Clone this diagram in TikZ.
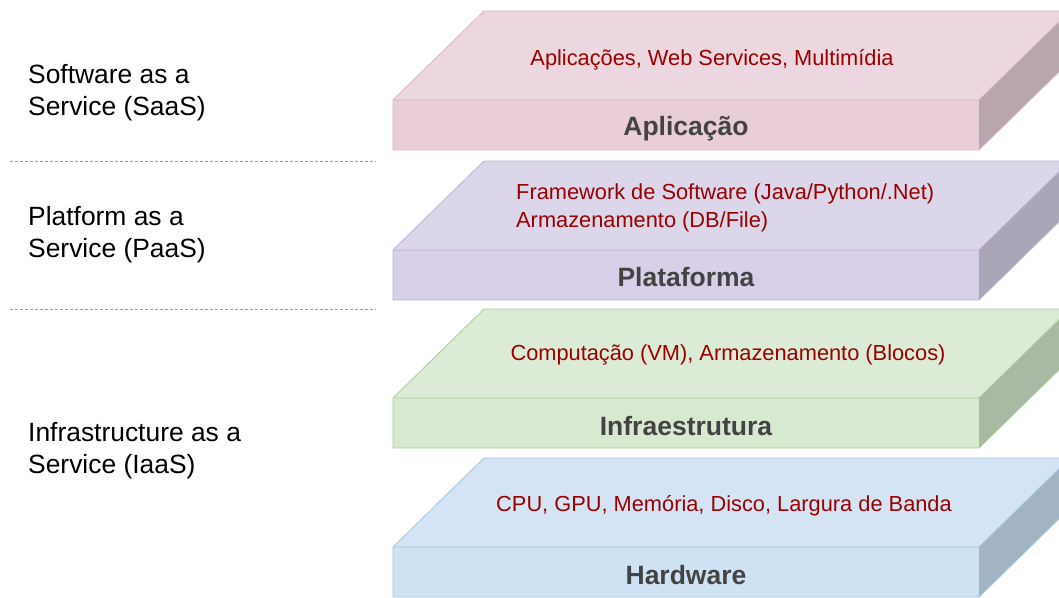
\documentclass[tikz,border=0pt]{standalone}
\usepackage{fontspec}
\setmainfont{Liberation Sans}
\definecolor{toptext}{HTML}{990000}
\definecolor{labeltext}{HTML}{434343}
\definecolor{sepline}{HTML}{9A9A9A}
% slab colours: top face, front face, side face, outline
\definecolor{pinkT}{HTML}{ECD6DF}\definecolor{pinkF}{HTML}{E9CEDA}\definecolor{pinkS}{HTML}{B9A5AE}\definecolor{pinkL}{HTML}{D9B3C5}
\definecolor{purpT}{HTML}{DCD6EA}\definecolor{purpF}{HTML}{D8D0E8}\definecolor{purpS}{HTML}{ABA5B8}\definecolor{purpL}{HTML}{BDB0D6}
\definecolor{grnT}{HTML}{DCEBD5}\definecolor{grnF}{HTML}{D7E9CF}\definecolor{grnS}{HTML}{A9B9A3}\definecolor{grnL}{HTML}{A9CC9A}
\definecolor{bluT}{HTML}{D4E4F4}\definecolor{bluF}{HTML}{CFE2F3}\definecolor{bluS}{HTML}{A2B3C4}\definecolor{bluL}{HTML}{A0C4E6}
\tikzset{
  sidelabel/.style={anchor=west,align=left,font=\fontsize{26.4}{32}\selectfont,text=black,inner sep=0pt},
  facetext/.style={align=left,font=\fontsize{21.8}{28}\selectfont,text=toptext,inner sep=0pt},
  layername/.style={font=\fontsize{26.5}{30}\selectfont\bfseries,text=labeltext,inner sep=0pt},
  sep/.style={draw=sepline,line width=0.8pt,dash pattern=on 3pt off 2pt},
}
% \layerslab{front top y}{top}{front}{side}{outline}
\newcommand\layerslab[5]{%
  \fill[#2] (393,#1) -- (979,#1) -- (1070,#1-89) -- (484,#1-89) -- cycle;
  \draw[#5,line width=0.8pt] (393,#1) -- (484,#1-89) -- (1070,#1-89);
  \fill[#4] (979,#1) -- (1070,#1-89) -- (1070,#1-39) -- (979,#1+50) -- cycle;
  \fill[#3] (393,#1) rectangle (979,#1+50);
  \draw[#5,line width=0.8pt] (979,#1) -- (393,#1) -- (393,#1+50) -- (979,#1+50) -- (1070,#1-39);
  \draw[#5,line width=0.8pt] (979,#1) -- (1070,#1-89);
}
\begin{document}
\begin{tikzpicture}[x=1pt,y=-1pt]
\useasboundingbox (0,0) rectangle (1059,597);
\fill[white] (0,0) rectangle (1059,597);
\begin{scope}
\clip (0,0) rectangle (1059,597);
\layerslab{100}{pinkT}{pinkF}{pinkS}{pinkL}
\layerslab{250}{purpT}{purpF}{purpS}{purpL}
\layerslab{398}{grnT}{grnF}{grnS}{grnL}
\layerslab{547}{bluT}{bluF}{bluS}{bluL}
\end{scope}

% layer names on the front faces
\node[layername] (app) at (686,129) {Aplicação};
\node[layername] (plat) at (686,277) {Plataforma};
\node[layername] (infra) at (686,426) {Infraestrutura};
\node[layername] (hw) at (686,575) {Hardware};

% contents on the top faces
\node[facetext] (appc) at (712,60) {Aplicações, Web Services, Multimídia};
\node[facetext,anchor=west] (platc) at (516,208) {Framework de Software (Java/Python/.Net)\\Armazenamento (DB/File)};
\node[facetext] (infrac) at (728,355) {Computação (VM), Armazenamento (Blocos)};
\node[facetext] (hwc) at (724,506) {CPU, GPU, Memória, Disco, Largura de Banda};

% service models
\node[sidelabel] (saas) at (28,93) {Software as a\\Service (SaaS)};
\node[sidelabel] (paas) at (28,235) {Platform as a\\Service (PaaS)};
\node[sidelabel] (iaas) at (28,451) {Infrastructure as a\\Service (IaaS)};

\coordinate (s1a) at (10,161);\coordinate (s1b) at (376,161);
\coordinate (s2a) at (10,309);\coordinate (s2b) at (376,309);
\draw[sep] (s1a) -- (s1b);
\draw[sep] (s2a) -- (s2b);
\end{tikzpicture}
\end{document}
